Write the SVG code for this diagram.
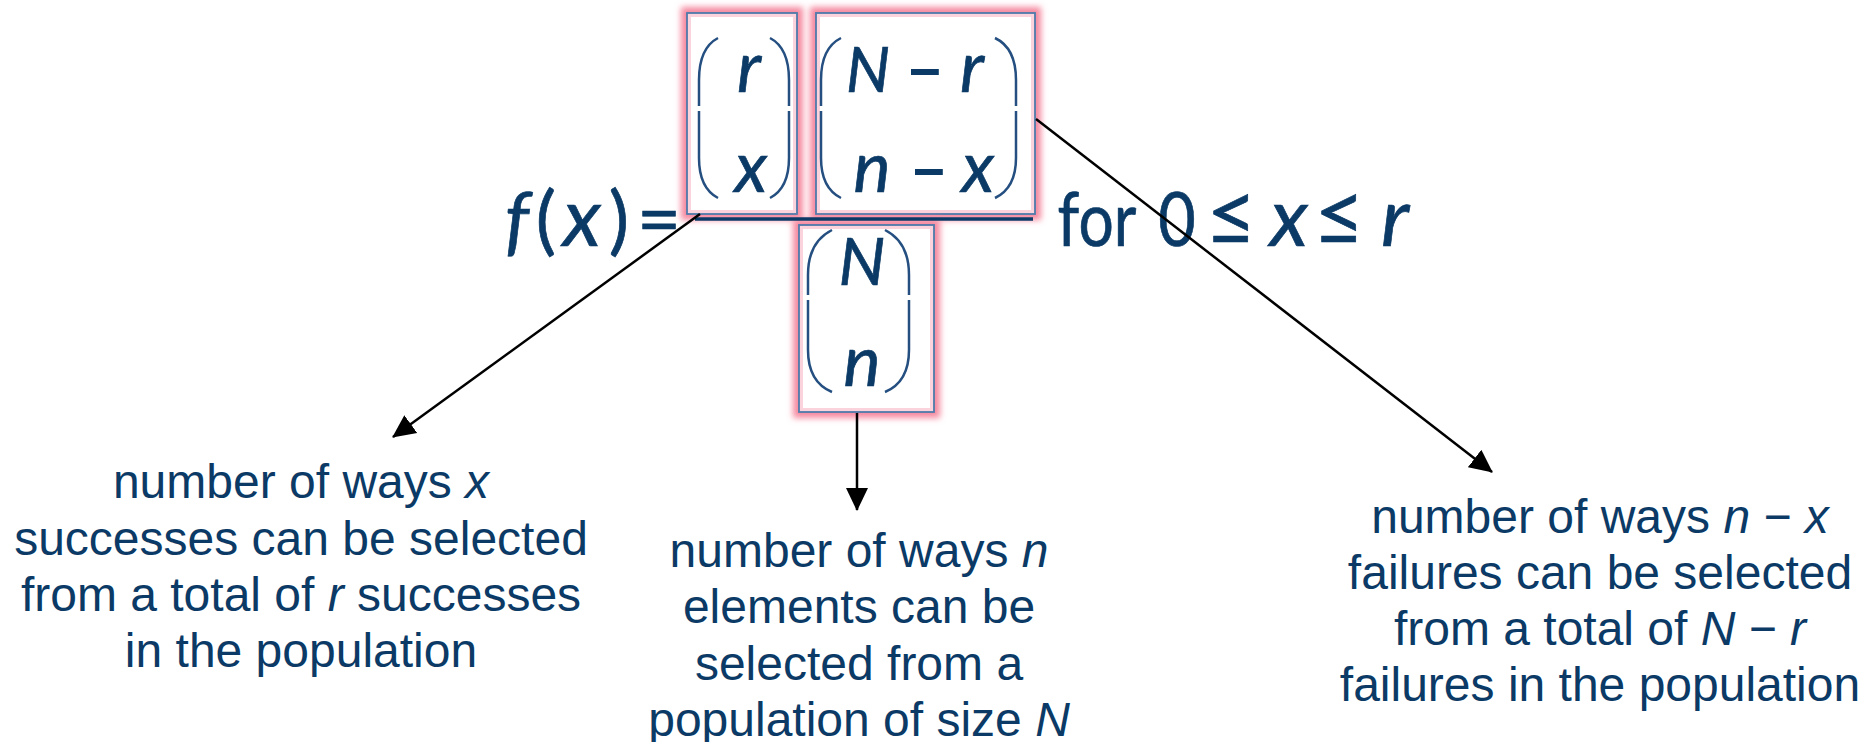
<svg xmlns="http://www.w3.org/2000/svg" width="1870" height="742" viewBox="0 0 1870 742">
  <defs>
    <style>
      .lbl { font-family: "Liberation Sans", Arial, sans-serif; font-size: 48px; fill: #0b3a66; text-anchor: middle; }
      .it { font-style: italic; }
      .m { font-family: Lato, "Noto Sans", sans-serif; fill: #0b3a66; stroke: #0b3a66; stroke-width: 0.7; text-anchor: middle; }
      .mi { font-style: italic; }
      .cap { font-size: 62px; }
      .low { font-size: 70px; }
      .op { font-size: 60px; }
      .minus { stroke-width: 2; }
      .big { font-size: 76px; }
      .bigl { font-size: 82px; }
      .paren { fill: none; stroke: #244f80; stroke-width: 2.5; }
      .glow { fill: none; stroke: #f5889f; stroke-width: 12; filter: url(#blur); }
      .inner { fill: #fff; stroke: #fbd3dc; stroke-width: 4; }
      .frame { fill: none; stroke: #4d7aaa; stroke-width: 1.8; }
      .conn { stroke: #000; stroke-width: 2.5; fill: none; marker-end: url(#arrow); }
    </style>
    <filter id="blur" x="-20%" y="-20%" width="140%" height="140%">
      <feGaussianBlur stdDeviation="3"/>
    </filter>
    <marker id="arrow" markerUnits="userSpaceOnUse" markerWidth="24" markerHeight="24" viewBox="0 0 24 24" refX="22" refY="12" orient="auto">
      <path d="M0,1 L23,12 L0,23 z" fill="#000"/>
    </marker>
  </defs>
  <rect width="1870" height="742" fill="#fff"/>

  <!-- box: (r over x) -->
  <g id="box-r-x">
    <rect class="glow" x="687" y="13" width="110" height="201"/>
    <rect class="inner" x="689" y="15" width="106" height="197"/>
    <rect class="frame" x="687" y="13" width="110" height="201"/>
    <path class="paren" d="M718,38 Q699,48 699,80 L699,106 M699,111 L699,158 Q699,188 718,198"/>
    <path class="paren" d="M770,38 Q789,48 789,80 L789,106 M789,111 L789,158 Q789,188 770,198"/>
    <text class="m low mi" x="749" y="92">r</text>
    <text class="m low mi" x="751" y="192">x</text>
  </g>

  <!-- box: (N-r over n-x) -->
  <g id="box-Nr-nx">
    <rect class="glow" x="816" y="13" width="219" height="201"/>
    <rect class="inner" x="818" y="15" width="215" height="197"/>
    <rect class="frame" x="816" y="13" width="219" height="201"/>
    <path class="paren" d="M841,38 Q821,48 821,80 L821,106 M821,111 L821,158 Q821,188 841,198"/>
    <path class="paren" d="M995,38 Q1016,48 1016,80 L1016,106 M1016,111 L1016,158 Q1016,188 995,198"/>
    <text class="m cap mi" x="868" y="92">N</text>
    <text class="m op minus" x="925" y="92">−</text>
    <text class="m low mi" x="972" y="92">r</text>
    <text class="m low mi" x="872" y="192">n</text>
    <text class="m op minus" x="929" y="192">−</text>
    <text class="m low mi" x="978" y="192">x</text>
  </g>

  <!-- box: (N over n) -->
  <g id="box-N-n">
    <rect class="glow" x="799" y="225" width="135" height="187"/>
    <rect class="inner" x="801" y="227" width="131" height="183"/>
    <rect class="frame" x="799" y="225" width="135" height="187"/>
    <path class="paren" d="M832,230 Q808,242 808,275 L808,295 M808,300 L808,350 Q808,382 832,392"/>
    <path class="paren" d="M885,230 Q909,242 909,275 L909,295 M909,300 L909,350 Q909,382 885,392"/>
    <text class="m mi" x="862" y="285" font-size="66">N</text>
    <text class="m low mi" x="862" y="386">n</text>
  </g>

  <!-- fraction bar -->
  <g id="fraction-bar">
    <line x1="695" y1="219" x2="1033" y2="219" stroke="#0b3a66" stroke-width="3.5"/>
  </g>

  <!-- f(x) = -->
  <g id="fx">
    <text class="m big mi" x="517" y="246">f</text>
    <text class="m big" x="546" y="246">(</text>
    <text class="m bigl mi" x="582" y="246">x</text>
    <text class="m big" x="619" y="246">)</text>
    <text class="m big" x="659" y="246">=</text>
  </g>

  <!-- for 0 <= x <= r -->
  <g id="range">
    <text class="m big" transform="translate(1097,246) scale(0.82,1)">for</text>
    <text class="m big" transform="translate(1177,246) scale(0.85,1)">0</text>
    <text class="m" x="1231" y="246" font-size="88">≤</text>
    <text class="m bigl mi" x="1289" y="246">x</text>
    <text class="m" x="1339" y="246" font-size="88">≤</text>
    <text class="m bigl mi" x="1395" y="246">r</text>
  </g>

  <!-- connectors -->
  <g id="connectors">
    <line class="conn" x1="700" y1="214" x2="393" y2="437"/>
    <line class="conn" x1="857" y1="413" x2="857" y2="510"/>
    <line class="conn" x1="1036" y1="119" x2="1492" y2="472"/>
  </g>

  <!-- labels -->
  <g id="label-left">
    <text class="lbl" x="301" y="498">number of ways <tspan class="it">x</tspan></text>
    <text class="lbl" x="301" y="555">successes can be selected</text>
    <text class="lbl" x="301" y="611">from a total of <tspan class="it">r</tspan> successes</text>
    <text class="lbl" x="301" y="667">in the population</text>
  </g>

  <g id="label-middle">
    <text class="lbl" x="859" y="567">number of ways <tspan class="it">n</tspan></text>
    <text class="lbl" x="859" y="623">elements can be</text>
    <text class="lbl" x="859" y="680">selected from a</text>
    <text class="lbl" x="859" y="736">population of size <tspan class="it">N</tspan></text>
  </g>

  <g id="label-right">
    <text class="lbl" x="1600" y="533">number of ways <tspan class="it">n</tspan> − <tspan class="it">x</tspan></text>
    <text class="lbl" x="1600" y="589">failures can be selected</text>
    <text class="lbl" x="1600" y="645">from a total of <tspan class="it">N</tspan> − <tspan class="it">r</tspan></text>
    <text class="lbl" x="1600" y="701">failures in the population</text>
  </g>
</svg>
